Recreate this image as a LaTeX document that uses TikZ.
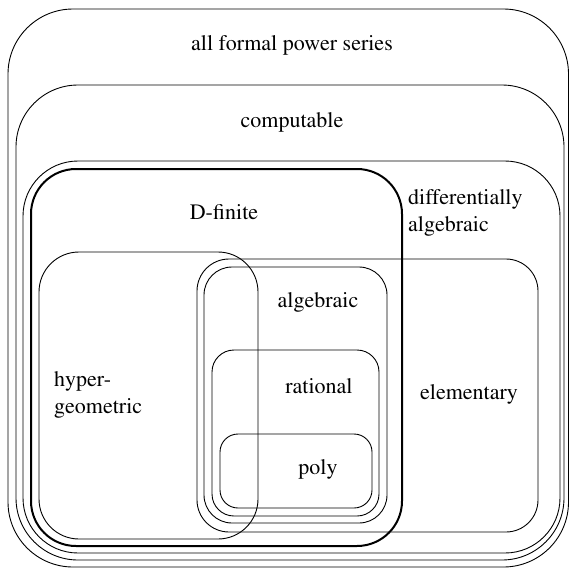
\documentclass[tikz,border=0pt]{standalone}
\usepackage[T1]{fontenc}
\usepackage{mathptmx}
\begin{document}
\begin{tikzpicture}[x=1pt,y=-1pt,
    ens/.style={draw, line width=0.9pt},
    lab/.style={font=\fontsize{22}{27}\selectfont, inner sep=0pt}]
    \useasboundingbox (0,0) rectangle (570,568);
    % All formal power series
    \draw[ens, rounded corners=65pt] (8,9) rectangle (568.5,567);
    \node[lab] (all) at (292,45) {all formal power series};
    % Computable
    \draw[ens, rounded corners=62pt] (16,85) rectangle (564,560);
    \node[lab] (comp) at (292,122) {computable};
    % Differentially algebraic
    \draw[ens, rounded corners=55pt] (23,161) rectangle (560,553);
    \node[lab, align=left, anchor=west] (diffalg) at (408,213) {differentially\\algebraic};
    % D-finite
    \draw[ens, line width=2pt, rounded corners=45pt] (31,169) rectangle (402,546);
    \node[lab] (dfin) at (224,212) {D-finite};
    % Hypergeometric
    \draw[ens, rounded corners=40pt] (39,252) rectangle (258,539);
    \node[lab, align=left, anchor=west] (hyper) at (54,395) {hyper-\\geometric};
    % Elementary
    \draw[ens, rounded corners=32pt] (197,259) rectangle (538,532);
    \node[lab] (elem) at (469,394) {elementary};
    % Algebraic
    \draw[ens, rounded corners=28pt] (204,267) rectangle (387,523);
    \node[lab] (alg) at (318,302) {algebraic};
    % Rational
    \draw[ens, rounded corners=22pt] (212,350) rectangle (379,516);
    \node[lab] (rat) at (319,386) {rational};
    % Polynomials
    \draw[ens, rounded corners=18pt] (220,434) rectangle (372,508);
    \node[lab] (poly) at (318,469) {poly};
\end{tikzpicture}
\end{document}
